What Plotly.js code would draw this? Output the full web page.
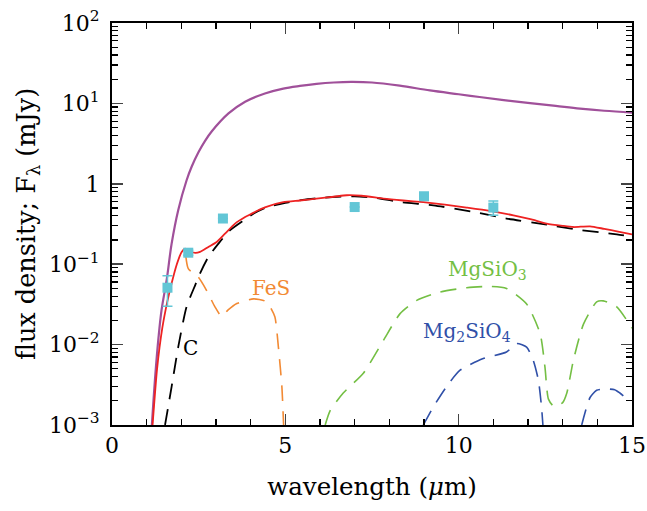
<!DOCTYPE html>
<html><head><meta charset="utf-8">
<script src="https://cdn.plot.ly/plotly-3.0.1.min.js"></script>
<style>body{margin:0;padding:0;background:#fff}#chart{width:647px;height:511px}</style>
</head><body><div id="chart"></div>
<script>
// Blackbody-like upper curve (purple)
const upperX = [1.15, 1.25, 1.34, 1.43, 1.58, 1.72, 1.91, 2.15, 2.3, 2.49, 2.68, 2.88, 3.36, 3.84, 4.41, 4.94, 5.42, 5.9, 6.4, 6.9, 7.5, 8.3, 9.17, 10.0, 10.6, 11.3, 12.06, 12.8, 13.5, 14.2, 15.0];
const upperY = [0.001, 0.0042, 0.012, 0.027, 0.065, 0.18, 0.47, 1.1, 1.64, 2.45, 3.4, 4.5, 7.5, 10.5, 13.3, 15.3, 16.5, 17.5, 18.2, 18.5, 18.2, 16.6, 14.5, 13.0, 12.0, 11.0, 10.1, 9.3, 8.6, 8.1, 7.7];
// Total model (red)
const totalX = [1.17, 1.3, 1.45, 1.6, 1.72, 1.87, 2.01, 2.11, 2.25, 2.4, 2.54, 2.78, 3.02, 3.26, 3.55, 3.84, 4.22, 4.41, 4.94, 5.42, 5.9, 6.4, 6.77, 7.2, 7.83, 8.4, 8.98, 9.6, 10.23, 10.9, 11.58, 12.1, 12.54, 13.0, 13.31, 13.79, 14.2, 14.6, 15.0];
const totalY = [0.001, 0.005, 0.016, 0.035, 0.058, 0.10, 0.142, 0.156, 0.145, 0.138, 0.142, 0.164, 0.189, 0.24, 0.32, 0.386, 0.468, 0.51, 0.59, 0.62, 0.655, 0.69, 0.72, 0.71, 0.655, 0.62, 0.59, 0.55, 0.506, 0.46, 0.405, 0.36, 0.32, 0.3, 0.29, 0.296, 0.275, 0.255, 0.235];
// Carbon (black dashed)
const carbonX = [1.53, 1.72, 1.91, 2.15, 2.4, 2.54, 2.78, 3.07, 3.4, 3.79, 4.1, 4.46, 5.0, 5.5, 6.0, 6.5, 7.0, 7.6, 8.31, 9.27, 10.42, 11.38, 12.54, 13.4, 14.56, 15.0];
const carbonY = [0.001, 0.003, 0.0093, 0.0295, 0.055, 0.077, 0.123, 0.18, 0.264, 0.35, 0.43, 0.51, 0.58, 0.63, 0.665, 0.69, 0.7, 0.67, 0.594, 0.54, 0.447, 0.37, 0.31, 0.27, 0.235, 0.22];
// FeS (orange dashed)
const fesX = [2.13, 2.2, 2.49, 2.73, 2.97, 3.16, 3.35, 3.6, 4.08, 4.4, 4.56, 4.7, 4.8, 4.9, 4.95];
const fesY = [0.125, 0.088, 0.069, 0.047, 0.0295, 0.0225, 0.027, 0.0324, 0.037, 0.035, 0.0295, 0.022, 0.0093, 0.003, 0.001];
// MgSiO3 (green dashed)
const mgsio3X = [6.15, 6.29, 6.67, 7.25, 7.83, 8.31, 8.79, 9.46, 10.23, 10.9, 11.38, 11.96, 12.35, 12.49, 12.59, 12.75, 13.0, 13.12, 13.31, 13.6, 13.98, 14.17, 14.56, 15.0];
const mgsio3Y = [0.001, 0.0015, 0.0025, 0.0044, 0.0113, 0.0243, 0.0355, 0.045, 0.051, 0.053, 0.05, 0.032, 0.0137, 0.0052, 0.0021, 0.0017, 0.0019, 0.0025, 0.0064, 0.018, 0.034, 0.035, 0.0295, 0.016];
// Mg2SiO4 (blue dashed)
const mg2sio4X = [8.98, 9.27, 9.65, 10.04, 10.71, 11.38, 11.67, 11.96, 12.15, 12.3, 12.39, 12.43, null, 13.55, 13.64, 13.79, 13.98, 14.27, 14.5, 14.65, 14.75];
const mg2sio4Y = [0.001, 0.00168, 0.003, 0.0048, 0.0067, 0.0081, 0.0103, 0.0093, 0.0064, 0.0036, 0.00168, 0.001, null, 0.001, 0.0014, 0.0022, 0.0027, 0.0028, 0.00275, 0.0025, 0.0023];
// Photometry (cyan squares)
const obsX = [1.6, 2.2, 3.2, 7.0, 9.0, 11.0];
const obsY = [0.051, 0.139, 0.37, 0.514, 0.70, 0.506];
const obsErrPlus = [0.021, 0.01, 0.0, 0.0, 0.05, 0.104];
const obsErrMinus = [0.021, 0.01, 0.0, 0.0, 0.05, 0.101];

const yTickVals = [0.001, 0.01, 0.1, 1, 10, 100];
const yTickText = ['10<sup>−3</sup>', '10<sup>−2</sup>', '10<sup>−1</sup>', '1', '10<sup>1</sup>', '10<sup>2</sup>'];
const yMinor = [];
for (let e = -3; e < 2; e++) for (let m = 2; m <= 9; m++) yMinor.push(m * Math.pow(10, e));
const xTickVals = [0, 5, 10, 15];

const FONT = 'DejaVu Serif, Liberation Serif, serif';
const dash = '16px,10px';
const traces = [
  {x: upperX, y: upperY, mode: 'lines', line: {color: '#a0509a', width: 2.2, shape: 'spline', smoothing: 1}},
  {x: carbonX, y: carbonY, mode: 'lines', line: {color: '#000000', width: 1.8, dash: dash, shape: 'spline', smoothing: 0.6}},
  {x: fesX, y: fesY, mode: 'lines', line: {color: '#f28a34', width: 1.6, dash: dash, shape: 'spline', smoothing: 0.6}},
  {x: mgsio3X, y: mgsio3Y, mode: 'lines', line: {color: '#74bf44', width: 1.6, dash: dash, shape: 'spline', smoothing: 0.6}},
  {x: mg2sio4X, y: mg2sio4Y, mode: 'lines', connectgaps: false, line: {color: '#3050a8', width: 1.6, dash: dash, shape: 'spline', smoothing: 0.6}},
  {x: totalX, y: totalY, mode: 'lines', line: {color: '#ee2222', width: 1.8, shape: 'spline', smoothing: 0.6}},
  {x: obsX, y: obsY, mode: 'markers', marker: {symbol: 'square', size: 10, color: '#62c6d6'},
   error_y: {type: 'data', symmetric: false, array: obsErrPlus, arrayminus: obsErrMinus, color: '#62c6d6', thickness: 1.5, width: 5}}
];

const layout = {
  width: 647, height: 511,
  margin: {l: 112, r: 15, t: 23, b: 86},
  paper_bgcolor: '#fff', plot_bgcolor: '#fff',
  showlegend: false,
  font: {family: FONT, color: '#000', size: 20},
  xaxis: {
    range: [0, 15], tickmode: 'array', tickvals: xTickVals, ticks: 'inside', ticklen: 11, tickwidth: 1.5,
    showline: true, linewidth: 2, linecolor: '#000', mirror: 'allticks', showgrid: false, zeroline: false,
    tickfont: {family: FONT, size: 22}, ticklabelstandoff: 0,
    minor: {ticks: 'inside', dtick: 1, ticklen: 6, tickwidth: 1.2, tickcolor: '#000', showgrid: false},
    title: {text: 'wavelength (<i>μ</i>m)', font: {family: FONT, size: 24.5}, standoff: 20}
  },
  yaxis: {
    type: 'log', range: [-3, 2], tickmode: 'array', tickvals: yTickVals, ticktext: yTickText,
    ticks: 'inside', ticklen: 11, tickwidth: 1.5,
    showline: true, linewidth: 2, linecolor: '#000', mirror: 'allticks', showgrid: false, zeroline: false,
    tickfont: {family: FONT, size: 22}, ticklabelstandoff: 6,
    minor: {ticks: 'inside', tickmode: 'array', tickvals: yMinor, ticklen: 6, tickwidth: 1.2, tickcolor: '#000', showgrid: false},
    title: {text: 'flux density; F<sub>λ</sub> (mJy)', font: {family: FONT, size: 25.5}, standoff: 6}
  },
  annotations: [
    {x: 4.6, y: Math.log10(0.05), xref: 'x', yref: 'y', text: 'FeS', showarrow: false, font: {family: FONT, size: 20, color: '#f28a34'}},
    {x: 2.25, y: Math.log10(0.009), xref: 'x', yref: 'y', text: 'C', showarrow: false, font: {family: FONT, size: 20, color: '#000'}},
    {x: 10.82, y: Math.log10(0.085), xref: 'x', yref: 'y', text: 'MgSiO<sub>3</sub>', showarrow: false, font: {family: FONT, size: 20, color: '#74bf44'}},
    {x: 10.24, y: Math.log10(0.0145), xref: 'x', yref: 'y', text: 'Mg<sub>2</sub>SiO<sub>4</sub>', showarrow: false, font: {family: FONT, size: 20, color: '#3050a8'}}
  ]
};
Plotly.newPlot('chart', traces, layout, {displayModeBar: false, staticPlot: true});
</script></body></html>
